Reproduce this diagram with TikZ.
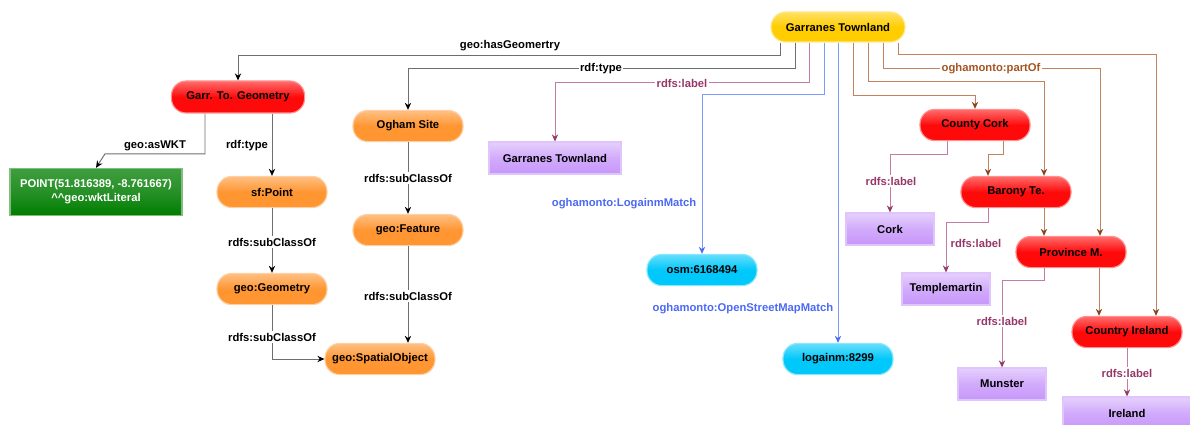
\documentclass[tikz,border=0pt]{standalone}
\usepackage{fontspec}
\setmainfont{Liberation Sans}
\usetikzlibrary{calc,arrows.meta,positioning}

\definecolor{pillred}{RGB}{255,10,10}
\definecolor{pillorange}{RGB}{255,150,50}
\definecolor{pillyellow}{RGB}{255,205,0}
\definecolor{pillcyan}{RGB}{0,200,250}
\definecolor{lblpurple}{RGB}{198,150,250}
\definecolor{litgreen}{RGB}{0,125,0}
\definecolor{edgegray}{RGB}{110,110,110}
\definecolor{lblline}{RGB}{195,125,165}
\definecolor{lbltext}{RGB}{150,55,105}
\definecolor{lnkblue}{RGB}{125,155,255}
\definecolor{lnktext}{RGB}{75,105,245}
\definecolor{partline}{RGB}{195,130,95}
\definecolor{parttext}{RGB}{165,85,35}

\begin{document}
\begin{tikzpicture} [x=0.025cm,y=-0.025cm,{pill/.style={rectangle,rounded corners=10.5pt,draw=#1!45!white,line width=0.8pt,top color=#1!60!white,bottom color=#1,middle color=#1,minimum width=2.75cm,minimum height=0.78cm,inner sep=1pt,font=\fontsize{8}{9.6}\selectfont\bfseries}},{lblbox/.style={rectangle,draw=lblpurple!55!white,line width=0.8pt,top color=lblpurple!45!white,bottom color=lblpurple,middle color=lblpurple!80!white,minimum width=2.2cm,minimum height=0.8cm,inner sep=1pt,font=\fontsize{8}{9.6}\selectfont\bfseries}},{litbox/.style={rectangle,draw=litgreen!50!white,line width=0.8pt,top color=litgreen!75!white,bottom color=litgreen,middle color=litgreen!85!white,minimum width=4.3cm,minimum height=1.18cm,inner sep=1pt,align=center,text=white,font=\fontsize{8}{10}\selectfont\bfseries}},{gedge/.style={draw=edgegray,line width=0.7pt,-{Stealth[length=5pt,width=4.5pt,color=black]}}},{ledge/.style={draw=lblline,line width=0.7pt,-{Stealth[length=5pt,width=4.5pt,color=lbltext]}}},{bedge/.style={draw=lnkblue,line width=0.7pt,-{Stealth[length=5pt,width=4.5pt,color=lnktext]}}},{pedge/.style={draw=partline,line width=0.7pt,-{Stealth[length=5pt,width=4.5pt,color=parttext!80!black]}}},{elbl/.style={fill=white,inner sep=1pt,font=\fontsize{8}{9.6}\selectfont\bfseries}}]
	\useasboundingbox (0,0) rectangle (1190,425);
	%%classes and instances
	\node[pill=pillyellow,minimum width=3.35cm,minimum height=0.75cm] (gtown) at (838,27) {Garranes Townland};
	\node[pill=pillred,minimum width=3.33cm,minimum height=0.8cm] (geom) at (238,97) {Garr. To. Geometry};
	\node[litbox] (wkt) at (96,192) {POINT(51.816389, -8.761667)\\\textasciicircum\textasciicircum geo:wktLiteral};
	\node[pill=pillorange] (sfpoint) at (272,192) {sf:Point};
	\node[pill=pillorange] (geogeom) at (272,289) {geo:Geometry};
	\node[pill=pillorange] (spobj) at (380,359) {geo:SpatialObject};
	\node[pill=pillorange] (ogham) at (408,126) {Ogham Site};
	\node[pill=pillorange] (feature) at (408,230) {geo:Feature};
	\node[lblbox,minimum width=3.3cm] (gtlabel) at (555,158) {Garranes Townland};
	\node[pill=pillcyan] (osm) at (702,270) {osm:6168494};
	\node[pill=pillcyan] (logainm) at (838,359) {logainm:8299};
	\node[pill=pillred] (cork) at (975,125) {County Cork};
	\node[pill=pillred] (barony) at (1016,192) {Barony Te.};
	\node[pill=pillred] (province) at (1071,252) {Province M.};
	\node[pill=pillred] (country) at (1127,332) {Country Ireland};
	%%labels (literals)
	\node[lblbox] (corklbl) at (890,229) {Cork};
	\node[lblbox] (templ) at (946,289) {Templemartin};
	\node[lblbox] (munster) at (1002,384) {Munster};
	\node[lblbox,minimum width=3.2cm] (irelandlbl) at (1127,413) {Ireland};
	%%edges from Garranes Townland
	\draw[gedge] ($(gtown.south)+(-58,0)$) |- ($(geom.north)+(0,-25)$) -- (geom.north);
	\draw[gedge] ($(gtown.south)+(-43,0)$) |- ($(ogham.north)+(0,-41)$) -- (ogham.north);
	\draw[ledge] ($(gtown.south)+(-29,0)$) |- ($(gtlabel.north)+(0,-59)$) -- (gtlabel.north);
	\draw[bedge] ($(gtown.south)+(-14,0)$) |- ($(osm.north)+(0,-159)$) -- (osm.north);
	\draw[bedge] (gtown.south) -- (logainm.north);
	\draw[pedge] ($(gtown.south)+(15,0)$) |- ($(cork.north)+(0,-13)$) -- (cork.north);
	\draw[pedge] ($(gtown.south)+(30,0)$) |- ($(barony.north)+(28,-94)$) -- ($(barony.north)+(28,0)$);
	\draw[pedge] ($(gtown.south)+(45,0)$) |- ($(province.north)+(29,-167)$) -- ($(province.north)+(29,0)$);
	\draw[pedge] ($(gtown.south)+(60,0)$) |- ($(country.north)+(29,-261)$) -- ($(country.north)+(29,0)$);
	%%partOf chain
	\draw[pedge] ($(cork.south)+(28,0)$) |- ($(barony.north)+(-28,-21)$) -- ($(barony.north)+(-28,0)$);
	\draw[ledge] ($(cork.south)+(-28,0)$) |- ($(corklbl.north)+(0,-58)$) -- (corklbl.north);
	\draw[pedge] ($(barony.south)+(28,0)$) -- ($(province.north)+(-27,0)$);
	\draw[ledge] ($(barony.south)+(-28,0)$) |- ($(templ.north)+(0,-50)$) -- (templ.north);
	\draw[pedge] ($(province.south)+(28,0)$) -- ($(country.north)+(-28,0)$);
	\draw[ledge] ($(province.south)+(-27,0)$) |- ($(munster.north)+(0,-87)$) -- (munster.north);
	\draw[ledge] (country.south) -- (irelandlbl.north);
	%%geometry side
	\draw[gedge] ($(geom.south)+(-33,0)$) |- ($(wkt.north)+(9,-14)$) -- (wkt.north);
	\draw[gedge] ($(geom.south)+(34,0)$) -- (sfpoint.north);
	\draw[gedge] (sfpoint) -- (geogeom);
	\draw[gedge] (geogeom.south) |- (spobj.west);
	\draw[gedge] (ogham) -- (feature);
	\draw[gedge] (feature.south) -- ($(spobj.north)+(28,0)$);
	%%edge labels
	\node[font=\fontsize{8}{9.6}\selectfont\bfseries] (lhasgeom) at (510,46) {geo:hasGeomertry};
	\node[elbl] (ltype1) at (601,69) {rdf:type};
	\node[elbl,text=lbltext] (llabel1) at (682,83) {rdfs:label};
	\node[elbl,text=lnktext,anchor=east] (llogainm) at (698,204) {oghamonto:LogainmMatch};
	\node[elbl,text=lnktext,anchor=east] (losm) at (835,309) {oghamonto:OpenStreetMapMatch};
	\node[elbl,text=parttext] (lpartof) at (991,69) {oghamonto:partOf};
	\node[elbl,text=lbltext] (llabel2) at (891,181) {rdfs:label};
	\node[elbl,text=lbltext] (llabel3) at (976,243) {rdfs:label};
	\node[elbl,text=lbltext] (llabel4) at (1002,321) {rdfs:label};
	\node[elbl,text=lbltext] (llabel5) at (1127,373) {rdfs:label};
	\node[elbl] (lwkt) at (155,146) {geo:asWKT};
	\node[elbl] (ltype2) at (247,146) {rdf:type};
	\node[elbl] (lsub1) at (272,242) {rdfs:subClassOf};
	\node[elbl] (lsub2) at (272,337) {rdfs:subClassOf};
	\node[elbl] (lsub3) at (408,178) {rdfs:subClassOf};
	\node[elbl] (lsub4) at (408,296) {rdfs:subClassOf};
\end{tikzpicture}
\end{document}
